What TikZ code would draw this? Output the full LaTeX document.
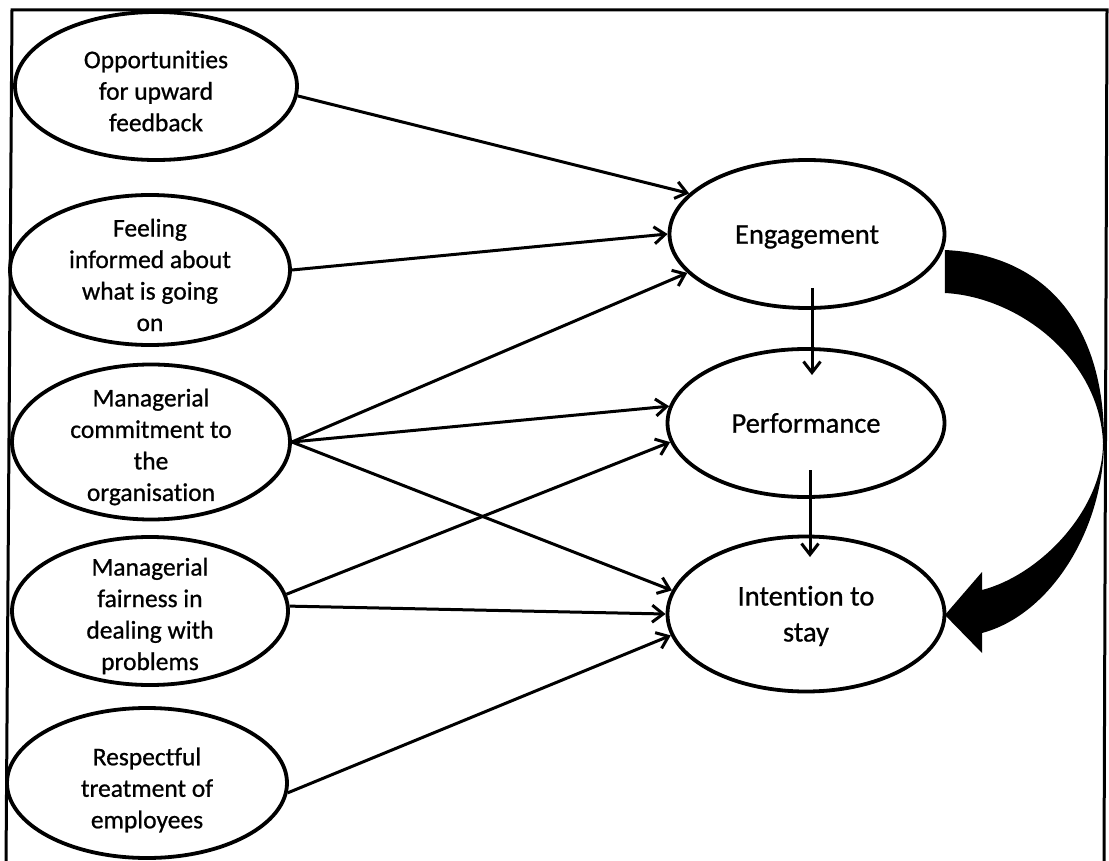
\documentclass[tikz,border=0pt]{standalone}
\usepackage{fontspec}
\setmainfont{Carlito}[Ligatures=NoCommon,FakeBold=0.8]
\usetikzlibrary{arrows.meta,calc,shapes.geometric}
\begin{document}
\begin{tikzpicture}[x=1pt,y=-1pt,
  oval/.style={ellipse,draw,line width=3.8pt,inner sep=0pt},
  ltext/.style={align=center,inner sep=0pt,yshift=-5pt,font=\fontsize{25.5}{31.5}\selectfont},
  rtext/.style={align=center,inner sep=0pt,font=\fontsize{28.5}{36}\selectfont},
  link/.style={line width=3pt,-{Straight Barb[length=11pt,width=17pt]}}]
\useasboundingbox (0,0) rectangle (1109,861);
% frame (open at the bottom)
\draw[line width=3pt] (6,866) -- (12,10) -- (1107,10) -- (1104,866);

% predictors
\node[oval,minimum width=282pt,minimum height=148pt] (e1) at (156,86) {};
\node[ltext] at (e1) {Opportunities\\for upward\\feedback};
\node[oval,minimum width=280pt,minimum height=150pt] (e2) at (150,270) {};
\node[ltext] at (e2) {Feeling\\informed about\\what is going\\on};
\node[oval,minimum width=278pt,minimum height=155pt] (e3) at (151,442) {};
\node[ltext] at (e3) {Managerial\\commitment to\\the\\organisation};
\node[oval,minimum width=276pt,minimum height=148pt] (e4) at (150,611) {};
\node[ltext] at (e4) {Managerial\\fairness in\\dealing with\\problems};
\node[oval,minimum width=280pt,minimum height=150pt] (e5) at (147,783) {};
\node[ltext,yshift=-2pt] at (e5) {Respectful\\treatment of\\employees};

% outcomes
\node[oval,minimum width=275pt,minimum height=148pt] (eng) at (807,234) {};
\node[rtext,yshift=-3pt] at (eng) {Engagement};
\node[oval,minimum width=277pt,minimum height=148pt] (perf) at (806,423) {};
\node[rtext] at (perf) {Performance};
\node[oval,minimum width=277pt,minimum height=155pt] (int) at (806,614) {};
\node[rtext,yshift=-2pt] at (int) {Intention to\\stay};

% paths from predictors to outcomes
\draw[link] (e1.-4) -- (eng.161);
\draw[link] (e2.east) -- (eng.west);
\draw[link] (e3.east) -- (eng.198);
\draw[link] (e3.east) -- (perf.173);
\draw[link] (e3.east) -- (int.170);
\draw[link] (e4.7) -- (perf.188);
\draw[link] (e4.2) -- (int.180);
\draw[link] (e5.-4) -- (int.189);

% chain between outcomes
\draw[link] ($(eng.center)+(5,54)$) -- ($(perf.center)+(6,-48)$);
\draw[link] ($(perf.center)+(4,47)$) -- ($(int.center)+(4,-57)$);

% curved block arrow from engagement to intention to stay
\coordinate (ba) at ($(eng.east)+(-1.5,16)$);
\coordinate (bb) at ($(eng.east)+(-1.5,59)$);
\coordinate (tip) at ($(int.east)+(-1.5,1)$);
\fill[black] (ba) .. controls (1050,255) and (1104,330) .. (1104,440)
  .. controls (1104,530) and (1050,615) .. (982,633)
  -- (982,653) -- (tip) -- (982,572) -- (982,590)
  .. controls (1040,575) and (1103,510) .. (1103,443)
  .. controls (1100,360) and (1020,297) .. (bb) -- cycle;
\end{tikzpicture}
\end{document}
